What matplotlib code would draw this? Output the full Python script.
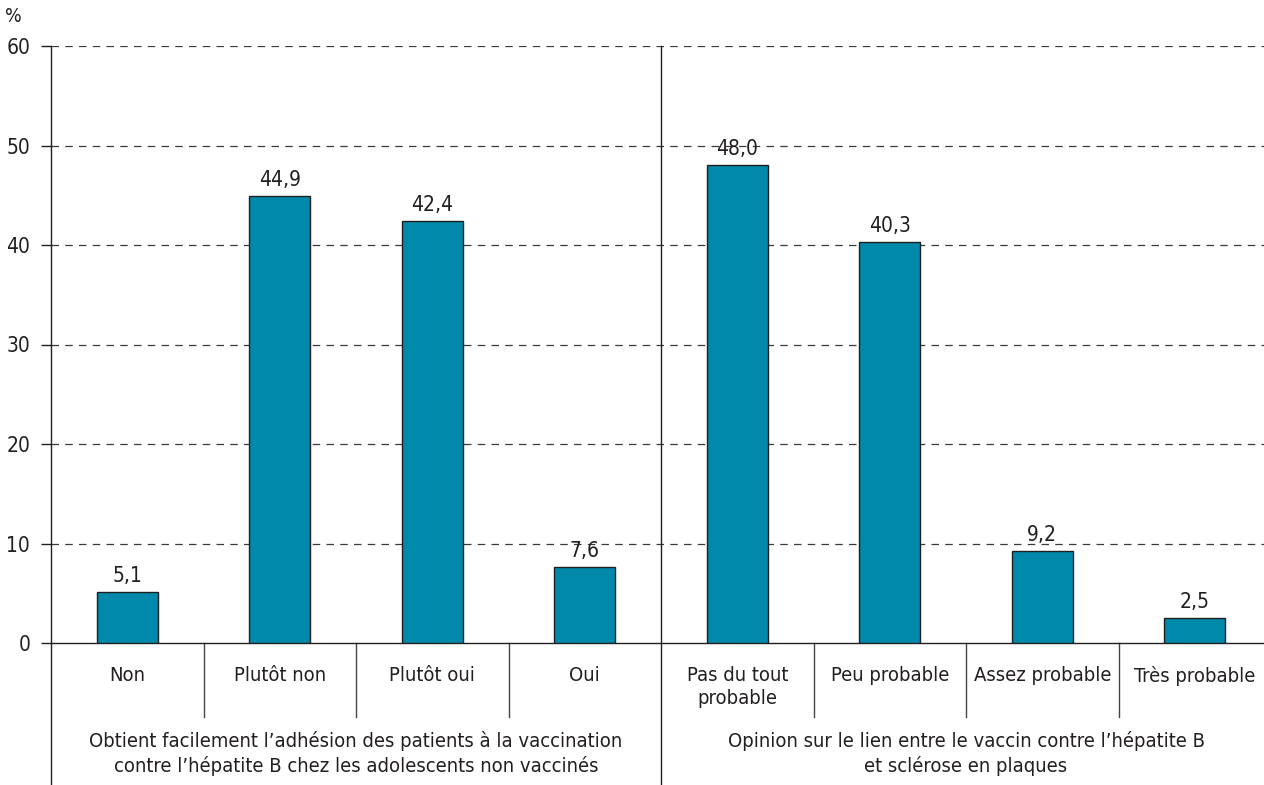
import matplotlib.pyplot as plt
from matplotlib.transforms import blended_transform_factory

# data
categories = [
    "Non", "Plutôt non", "Plutôt oui", "Oui",
    "Pas du tout\nprobable", "Peu probable", "Assez probable", "Très probable",
]
values = [5.1, 44.9, 42.4, 7.6, 48.0, 40.3, 9.2, 2.5]
groups = [
    "Obtient facilement l’adhésion des patients à la vaccination\ncontre l’hépatite B chez les adolescents non vaccinés",
    "Opinion sur le lien entre le vaccin contre l’hépatite B\net sclérose en plaques",
]
yticks = [0, 10, 20, 30, 40, 50, 60]

BAR = "#0089aa"
EDGE = "#1f1f1f"
INK = "#231f20"
GRID = "#3a3a3a"
FS = 14.5

plt.rcParams["font.family"] = ["DejaVu Sans"]
plt.rcParams["font.stretch"] = "condensed"

fig = plt.figure(figsize=(12.64, 7.85), dpi=100)
ax = fig.add_axes([51 / 1264, 1 - 643 / 785, 1 - 51 / 1264, 597 / 785])

xs = [i + 0.5 for i in range(len(values))]
ax.bar(xs, values, width=0.4, color=BAR, edgecolor=EDGE, linewidth=1.0, zorder=3)
for x, v in zip(xs, values):
    ax.text(x, v + 0.6, f"{v:.1f}".replace(".", ","), ha="center", va="bottom",
            fontsize=FS + 0.5, color=INK, zorder=4)

ax.set_xlim(0, (1264 - 51) / 152.5)
ax.set_ylim(0, 60)
ax.set_yticks(yticks)
ax.set_yticklabels([str(t) for t in yticks], fontsize=FS + 0.5, color=INK)
ax.tick_params(axis="y", length=7, width=1, color=INK, pad=8)
ax.set_xticks([])
for t in yticks[1:]:
    ax.axhline(t, color=GRID, linewidth=0.9, linestyle=(0, (6, 5)), zorder=1)

for s in ["top", "right"]:
    ax.spines[s].set_visible(False)
ax.spines["bottom"].set_color(INK)
ax.spines["left"].set_color(INK)
ax.spines["left"].set_linewidth(1.0)
ax.spines["bottom"].set_linewidth(1.0)

tr = blended_transform_factory(ax.transData, ax.transAxes)
px = 1 / 597.0

# separators under the axis
for i in [1, 2, 3, 5, 6, 7]:
    ax.plot([i, i], [0, -74 * px], transform=tr, color="#444444", linewidth=1.0, clip_on=False)
ax.plot([0, 0], [0, -142 * px], transform=tr, color=INK, linewidth=1.0, clip_on=False)
ax.plot([4, 4], [1, -142 * px], transform=tr, color=INK, linewidth=1.0, clip_on=False, zorder=5)

for x, c in zip(xs, categories):
    ax.text(x, -23 * px, c, transform=tr, ha="center", va="top", fontsize=FS,
            color=INK, linespacing=1.3)

ax.text(2, -88 * px, groups[0], transform=tr, ha="center", va="top", fontsize=FS,
        color=INK, linespacing=1.3)
ax.text(6, -88 * px, groups[1], transform=tr, ha="center", va="top", fontsize=FS,
        color=INK, linespacing=1.3)

fig.text(13 / 1264, 1 - 16 / 785, "%", ha="center", va="center", fontsize=FS - 0.5, color=INK)

fig.savefig("out.png", dpi=100, facecolor="white")
